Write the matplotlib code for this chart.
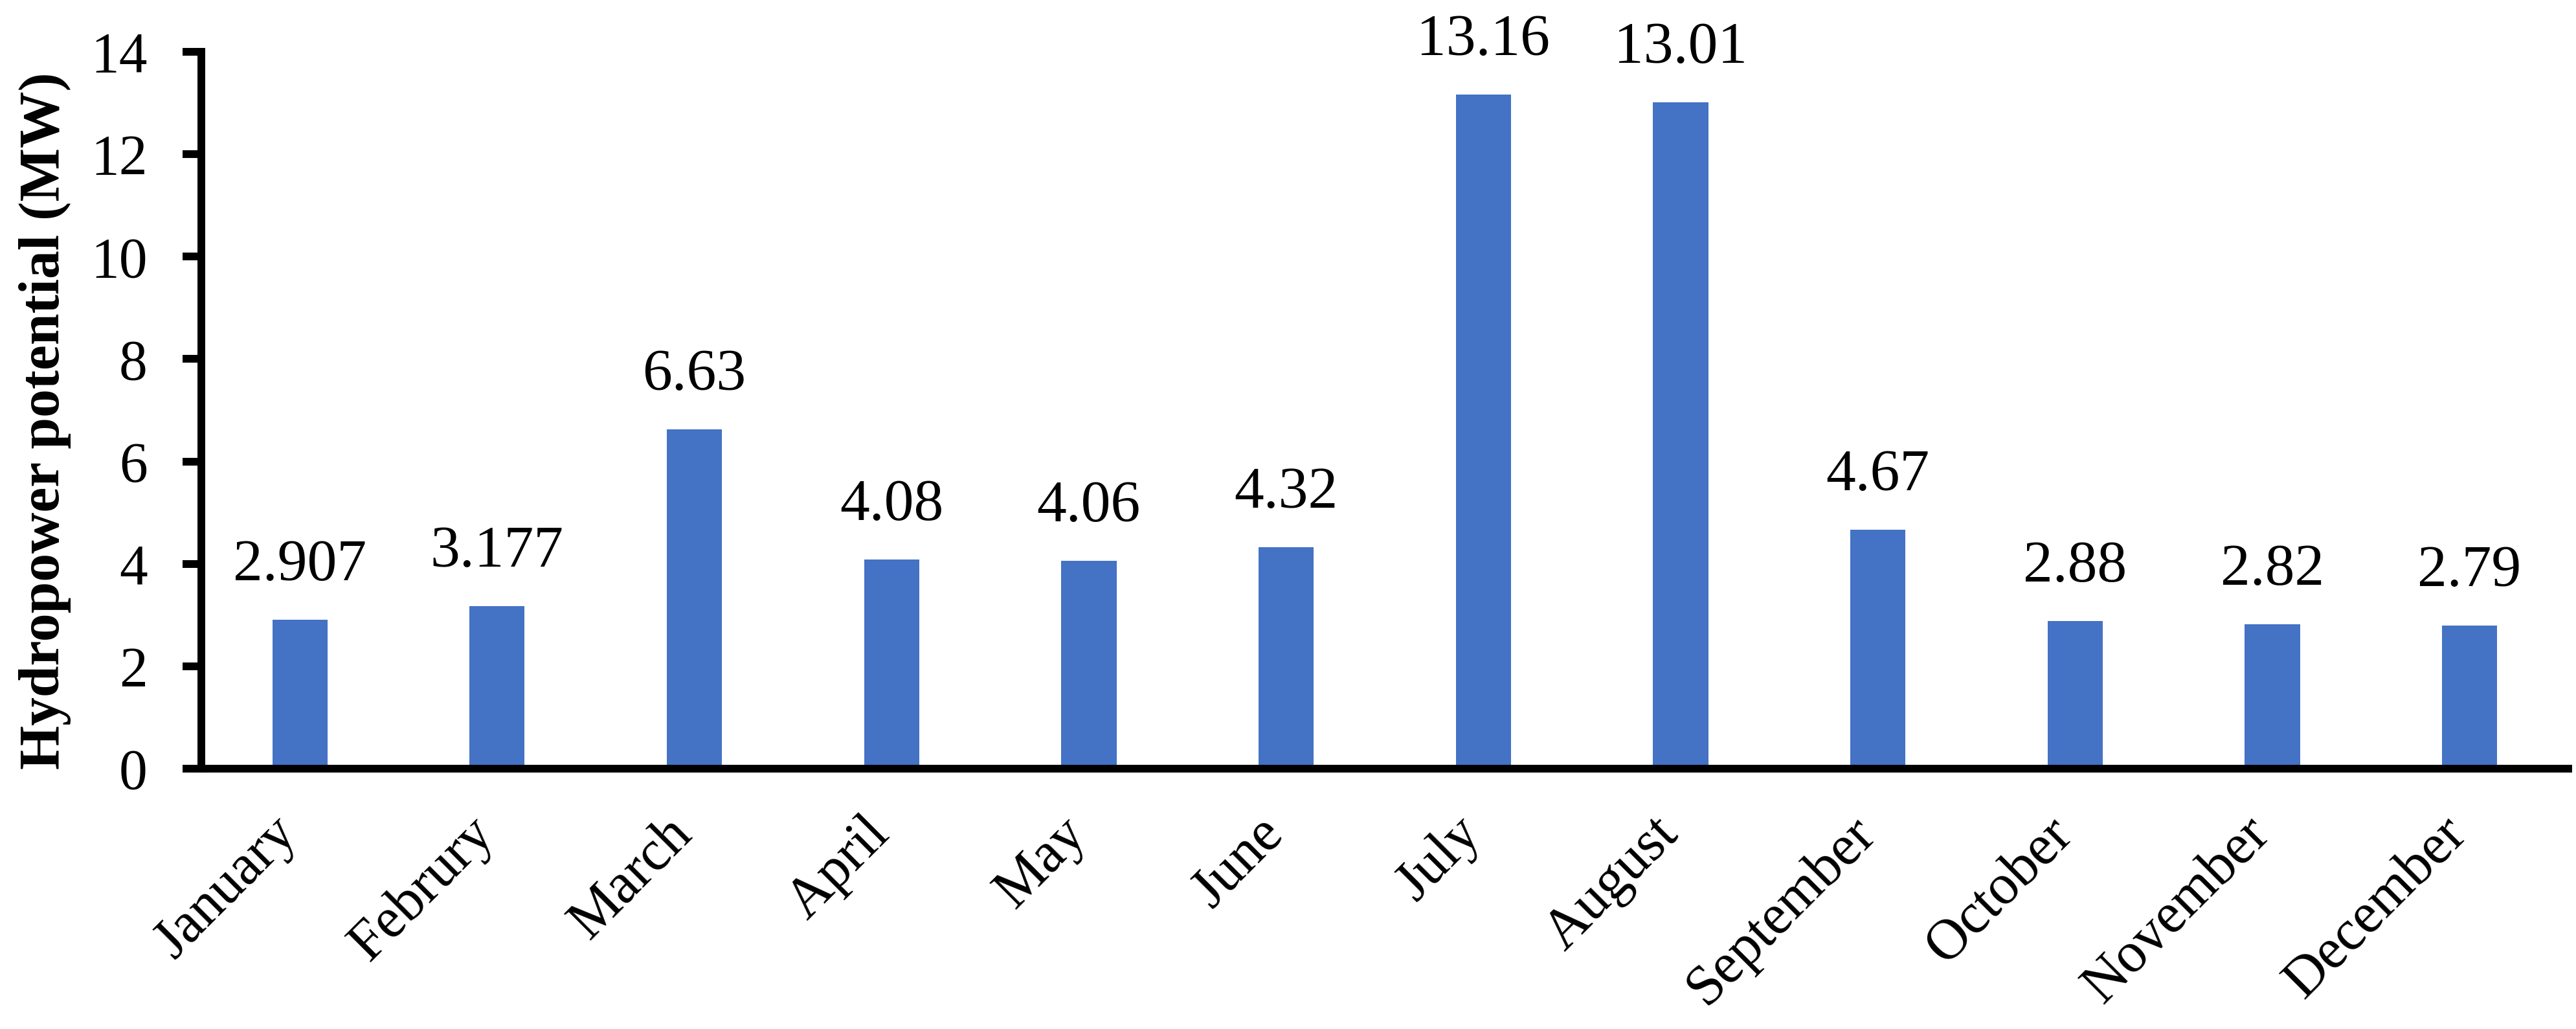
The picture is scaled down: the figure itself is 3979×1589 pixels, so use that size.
import matplotlib.pyplot as plt
import matplotlib.transforms as mtransforms
import numpy as np

months = ["January", "Februry", "March", "April", "May", "June", "July",
          "August", "September", "October", "November", "December"]
potential = [2.907, 3.177, 6.63, 4.08, 4.06, 4.32, 13.16, 13.01, 4.67, 2.88, 2.82, 2.79]
value_labels = ["2.907", "3.177", "6.63", "4.08", "4.06", "4.32", "13.16",
                "13.01", "4.67", "2.88", "2.82", "2.79"]

plt.rcParams["font.family"] = ["Liberation Serif", "DejaVu Serif"]

fig = plt.figure(figsize=(39.8, 15.89), dpi=100)
ax = fig.add_axes([0.0781, 0.253, 0.9186, 0.6967])

x = np.arange(len(months))
ax.bar(x, potential, width=0.28, color="#4472C4", zorder=2)

# value labels above bars
for xi, v, lab in zip(x, potential, value_labels):
    ax.annotate(lab, (xi, v), xytext=(0, 44), textcoords="offset points",
                ha="center", va="baseline", fontsize=66)

ax.set_xlim(-0.5, len(months) - 0.5)
ax.set_ylim(0, 14)
ax.set_yticks(np.arange(0, 15, 2))
ax.set_xticks(x)
ax.set_xticklabels(months, rotation=45, ha="right", fontsize=63)
ax.tick_params(axis="y", labelsize=63, length=21, width=8.6, pad=39)
ax.tick_params(axis="x", length=0, pad=43)

# nudge month labels a little to the right, like the original
shift = mtransforms.ScaledTranslation(0.12, 0, fig.dpi_scale_trans)
for lbl in ax.get_xticklabels():
    lbl.set_transform(lbl.get_transform() + shift)

for s in ["top", "right"]:
    ax.spines[s].set_visible(False)
for s in ["left", "bottom"]:
    ax.spines[s].set_linewidth(8.6)

ax.set_ylabel("Hydropower potential (MW)", fontsize=63, fontweight="bold")
ax.yaxis.set_label_coords(-0.055, 0.485)

fig.savefig("out.png", dpi=100)
